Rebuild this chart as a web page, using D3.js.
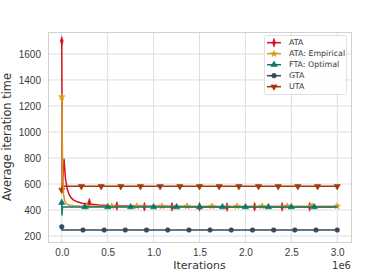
<!DOCTYPE html>
<html><head><meta charset="utf-8">
<script src="https://cdn.jsdelivr.net/npm/d3@7"></script>
<style>body{margin:0;background:#fff}svg{display:block}</style>
</head><body>
<script>
// ---- data (x in units of 1e6 iterations) ----
const xTicks = [0.0, 0.5, 1.0, 1.5, 2.0, 2.5, 3.0];
const xTickLabels = ["0.0", "0.5", "1.0", "1.5", "2.0", "2.5", "3.0"];
const yTicks = [200, 400, 600, 800, 1000, 1200, 1400, 1600];

const seriesNames = ["ATA", "ATA: Empirical", "FTA: Optimal", "GTA", "UTA"];

const ataX = [0, 0.005, 0.025, 0.04, 0.06, 0.08, 0.1, 0.13, 0.17, 0.22, 0.3, 0.4, 0.5, 0.7, 1.0, 1.5, 2.0, 2.5, 2.99];
const ataY = [1700, 560, 790, 640, 560, 520, 495, 476, 463, 452, 446, 438, 434, 430, 428, 426, 425, 425, 425];
const ataMX = [0, 0.3, 0.6, 0.9, 1.2, 1.5, 1.8, 2.1, 2.4, 2.7];
const ataMY = [1700, 456, 431, 425, 425, 425, 423, 425, 425, 425];

const empX = [0, 0.006, 0.012, 0.02, 0.03, 0.045, 0.06, 0.09, 0.13, 0.2, 0.4, 1.0, 2.0, 3.0];
const empY = [1270, 900, 620, 520, 475, 452, 442, 436, 432, 430, 429, 429, 429, 429];
const empMX = [0, 0.273, 0.545, 0.818, 1.091, 1.364, 1.636, 1.909, 2.182, 2.455, 2.727, 3.0];
const empMY = [1270, 430, 430, 430, 430, 430, 430, 430, 430, 430, 430, 430];

const ftaX = [0, 0.002, 0.008, 0.5, 1.0, 1.5, 2.0, 2.5, 3.0];
const ftaY = [456, 362, 423, 423, 423, 423, 423, 423, 423];
const ftaMX = [0, 0.25, 0.5, 0.75, 1.0, 1.25, 1.5, 1.75, 2.0, 2.25, 2.5, 2.75];
const ftaMY = [456, 423, 423, 423, 423, 423, 423, 423, 423, 423, 423, 423];

const gtaX = [0, 0.003, 1.0, 2.0, 3.0];
const gtaY = [271, 246, 246, 246, 246];
const gtaMX = [0, 0.231, 0.462, 0.692, 0.923, 1.154, 1.385, 1.615, 1.846, 2.077, 2.308, 2.538, 2.769, 3.0];
const gtaMY = [271, 246, 246, 246, 246, 246, 246, 246, 246, 246, 246, 246, 246, 246];

const utaX = [0, 0.004, 1.0, 2.0, 3.0];
const utaY = [554, 582, 582, 582, 582];
const utaMX = [0, 0.214, 0.429, 0.643, 0.857, 1.071, 1.286, 1.5, 1.714, 1.929, 2.143, 2.357, 2.571, 2.786, 3.0];
const utaMY = [554, 582, 582, 582, 582, 582, 582, 582, 582, 582, 582, 582, 582, 582, 582];

// ---- layout ----
const W = 389, H = 272;
const m = {l: 48, r: 38, t: 32, b: 30};
const pw = W - m.l - m.r, ph = H - m.t - m.b;

const colors = ["#d8101a", "#d69a18", "#0d7470", "#34495e", "#a3390e"];
const shapes = ["diamond", "star", "triangle", "circle", "triangleDown"];

const svg = d3.select("body").append("svg").attr("width", W).attr("height", H)
  .style("font-family", "DejaVu Sans, sans-serif");

const x = d3.scaleLinear().domain([-0.15, 3.15]).range([m.l, m.l + pw]);
const y = d3.scaleLinear().domain([154, 1769]).range([m.t + ph, m.t]);

// grid
const g = svg.append("g");
g.selectAll(".gx").data(xTicks).join("line")
  .attr("x1", d => x(d)).attr("x2", d => x(d)).attr("y1", m.t).attr("y2", m.t + ph)
  .attr("stroke", "#dedede").attr("stroke-width", 1);
g.selectAll(".gy").data(yTicks).join("line")
  .attr("x1", m.l).attr("x2", m.l + pw).attr("y1", d => y(d)).attr("y2", d => y(d))
  .attr("stroke", "#dedede").attr("stroke-width", 1);

// axes via d3
const xAxis = d3.axisBottom(x).tickValues(xTicks).tickFormat((d, i) => xTickLabels[i]).tickSize(0).tickPadding(7);
const yAxis = d3.axisLeft(y).tickValues(yTicks).tickFormat(d3.format("d")).tickSize(0).tickPadding(7);
const ax = svg.append("g").attr("transform", `translate(0,${m.t + ph})`).call(xAxis);
const ay = svg.append("g").attr("transform", `translate(${m.l},0)`).call(yAxis);
[ax, ay].forEach(a => {
  a.select(".domain").remove();
  a.selectAll("text").attr("fill", "#3a3a3a").style("font-size", "10px");
});

// frame
svg.append("rect").attr("x", m.l + 0.5).attr("y", m.t + 0.5).attr("width", pw).attr("height", ph)
  .attr("fill", "none").attr("stroke", "#d0d0d0").attr("stroke-width", 1);

function sym(shape, size) {
  const map = {diamond: d3.symbolDiamond, star: d3.symbolStar, triangle: d3.symbolTriangle,
               circle: d3.symbolCircle, triangleDown: d3.symbolTriangle};
  return d3.symbol().type(map[shape]).size(size)();
}
function drawMarker(sel, shape, color, cx, cy) {
  let tr = `translate(${cx},${cy})`;
  let size = 17;
  if (shape === "triangleDown") tr += " rotate(180)";
  if (shape === "diamond") { tr += " scale(0.7,1.2)"; size = 16; }
  if (shape === "star") size = 13;
  if (shape === "circle") size = 17;
  sel.append("path").attr("d", sym(shape, size)).attr("transform", tr)
    .attr("fill", color).attr("stroke", color).attr("stroke-width", 0.6);
}

const lineXs = [ataX, empX, ftaX, gtaX, utaX];
const lineYs = [ataY, empY, ftaY, gtaY, utaY];
const mXs = [ataMX, empMX, ftaMX, gtaMX, utaMX];
const mYs = [ataMY, empMY, ftaMY, gtaMY, utaMY];

const line = d3.line().x(d => x(d[0])).y(d => y(d[1]));
const plot = svg.append("g");
const order = [4, 3, 0, 1, 2];
order.forEach(i => {
  const pts = lineXs[i].map((v, k) => [v, lineYs[i][k]]);
  plot.append("path").attr("d", line(pts)).attr("fill", "none")
    .attr("stroke", colors[i]).attr("stroke-width", 1.5).attr("stroke-linejoin", "round");
  const mg = plot.append("g");
  mXs[i].forEach((v, k) => drawMarker(mg, shapes[i], colors[i], x(v), y(mYs[i][k])));
});

// legend
const lg = svg.append("g");
lg.append("rect").attr("x", 264.5).attr("y", 35.5).attr("width", 82).attr("height", 59).attr("rx", 2)
  .attr("fill", "#fff").attr("fill-opacity", 0.85).attr("stroke", "#d8d8d8").attr("stroke-width", 0.8);
seriesNames.forEach((n, i) => {
  const yy = 42.7 + i * 11;
  lg.append("line").attr("x1", 267).attr("x2", 281).attr("y1", yy).attr("y2", yy)
    .attr("stroke", colors[i]).attr("stroke-width", 1.5);
  drawMarker(lg, shapes[i], colors[i], 274, yy);
  lg.append("text").attr("x", 289).attr("y", yy).attr("dy", "0.35em")
    .attr("fill", "#3a3a3a").style("font-size", "7.9px").text(n);
});

// labels
svg.append("text").attr("x", m.l + pw / 2).attr("y", 269).attr("text-anchor", "middle")
  .attr("fill", "#333").style("font-size", "11px").text("Iterations");
svg.append("text").attr("transform", `translate(11,${m.t + ph / 2}) rotate(-90)`).attr("text-anchor", "middle")
  .attr("fill", "#333").style("font-size", "11.4px").text("Average iteration time");
svg.append("text").attr("x", m.l + pw).attr("y", 269).attr("text-anchor", "end")
  .attr("fill", "#3a3a3a").style("font-size", "10px").text("1e6");
</script>
</body></html>
